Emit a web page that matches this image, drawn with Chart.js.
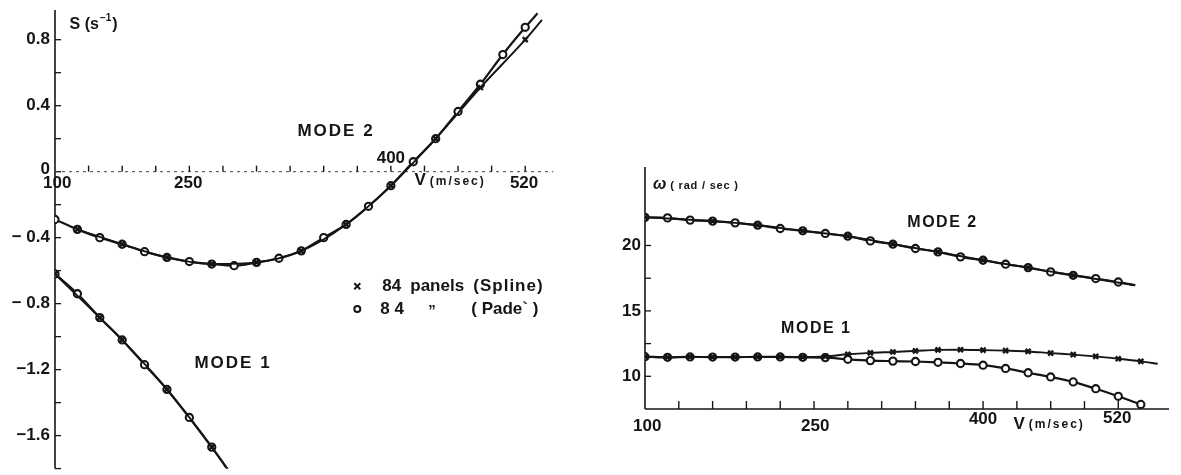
<!DOCTYPE html>
<html>
<head>
<meta charset="utf-8">
<title>S y omega contra V</title>
<script src="https://cdn.jsdelivr.net/npm/chart.js@4.4.0/dist/chart.umd.min.js"></script>
<style>
  body { margin: 0; background: #fff; }
  #izq { position: absolute; left: 0; top: 0; }
  #der { position: absolute; left: 600px; top: 0; }
</style>
</head>
<body>
<canvas id="izq" width="600" height="475"></canvas>
<canvas id="der" width="581" height="475"></canvas>
<script>
// ---- Panel izquierdo: S (1/s) contra V (m/sec) ----
const vIzq          = [100,120,140,160,180,200,220,240,260,280,300,320,340,360,380,400,420,440,460,480,500,520];
const sModo2Pade    = [-0.29,-0.35,-0.40,-0.44,-0.485,-0.52,-0.545,-0.56,-0.57,-0.55,-0.525,-0.48,-0.40,-0.32,-0.21,-0.085,0.06,0.20,0.365,0.53,0.71,0.875];
const vModo2Spline  = [120,160,200,240,280,320,360,400,440,480,520];
const sModo2Spline  = [-0.35,-0.44,-0.52,-0.56,-0.55,-0.48,-0.32,-0.085,0.20,0.51,0.80];
const colaModo2Pade   = [531, 0.96];
const colaModo2Spline = [535, 0.92];

const vModo1Izq     = [100,120,140,160,180,200,220,240];
const sModo1Pade    = [-0.62,-0.74,-0.885,-1.02,-1.17,-1.32,-1.49,-1.67];
const vModo1Spline  = [100,140,160,200,240];
const sModo1Spline  = [-0.62,-0.885,-1.02,-1.32,-1.67];
const colaModo1     = [260, -1.86];

const ticksYIzq     = [0.8, 0.4, 0, -0.4, -0.8, -1.2, -1.6];
const etiquetasYIzq = ["0.8", "0.4", "0", "\u2212 0.4", "\u2212 0.8", "\u22121.2", "\u22121.6"];

// ---- Panel derecho: omega (rad/sec) contra V (m/sec) ----
const vDer          = [100,120,140,160,180,200,220,240,260,280,300,320,340,360,380,400,420,440,460,480,500,520];
const wModo2Pade    = [22.15,22.11,21.94,21.86,21.73,21.55,21.30,21.12,20.92,20.71,20.35,20.10,19.77,19.51,19.13,18.87,18.57,18.31,17.98,17.72,17.47,17.21];
const vModo2SplineD = [100,160,200,240,280,320,360,400,440,480];
const wModo2Spline  = [22.15,21.86,21.55,21.12,20.71,20.10,19.51,18.87,18.31,17.72];
const colaModo2Der  = [535, 16.96];

const vModo1Der     = [100,120,140,160,180,200,220,240,260,280,300,320,340,360,380,400,420,440,460,480,500,520,540];
const wModo1Pade    = [11.50,11.45,11.48,11.47,11.47,11.48,11.48,11.45,11.43,11.30,11.20,11.16,11.13,11.07,10.98,10.85,10.60,10.27,9.95,9.57,9.05,8.47,7.85];
const wModo1Spline  = [11.50,11.45,11.48,11.47,11.47,11.48,11.48,11.47,11.52,11.68,11.79,11.86,11.94,12.02,12.03,12.00,11.96,11.90,11.77,11.66,11.52,11.34,11.14];
const colaModo1Der  = [555, 10.96];

const ticksYDer     = [20, 15, 10];

const TINTA = "#151515";
const FUENTE = '"Liberation Sans", Arial, sans-serif';

function puntos(vs, ys, cola) {
  const p = vs.map((v, i) => ({ x: v, y: ys[i] }));
  if (cola) p.push({ x: cola[0], y: cola[1], cola: true });
  return p;
}

function curvaPade(data) {
  return {
    data,
    borderColor: TINTA,
    borderWidth: 2.2,
    cubicInterpolationMode: "monotone",
    pointStyle: "circle",
    pointRadius: c => (c.raw && c.raw.cola ? 0 : 3.6),
    pointBorderWidth: 2.1,
    pointBorderColor: TINTA,
    pointBackgroundColor: "#fff",
    order: 1
  };
}

function curvaSpline(data) {
  return {
    data,
    borderColor: TINTA,
    borderWidth: 1.9,
    cubicInterpolationMode: "monotone",
    pointStyle: "crossRot",
    pointRadius: c => (c.raw && c.raw.cola ? 0 : 3.5),
    pointBorderWidth: 2.4,
    pointBorderColor: TINTA,
    pointBackgroundColor: TINTA,
    order: 0
  };
}

function texto(ctx, s, px, py, tam, alin, esp, peso) {
  ctx.font = (peso || "bold") + " " + tam + "px " + FUENTE;
  ctx.letterSpacing = (esp || 0) + "px";
  ctx.textAlign = alin || "center";
  ctx.textBaseline = "middle";
  ctx.fillStyle = TINTA;
  ctx.fillText(s, px, py);
  ctx.letterSpacing = "0px";
  ctx.textAlign = "left";
  return ctx.measureText(s).width;
}

function linea(ctx, x1, y1, x2, y2, ancho) {
  ctx.lineWidth = ancho;
  ctx.beginPath();
  ctx.moveTo(x1, y1);
  ctx.lineTo(x2, y2);
  ctx.stroke();
}

// Etiqueta de eje: letra grande y unidades pequeñas a continuación
function rotuloEje(ctx, letra, unidades, px, py, tamL, tamU, espU, estiloL) {
  ctx.font = (estiloL || "bold") + " " + tamL + "px " + FUENTE;
  ctx.textAlign = "left";
  ctx.textBaseline = "middle";
  ctx.fillStyle = TINTA;
  ctx.fillText(letra, px, py);
  const w = ctx.measureText(letra).width;
  texto(ctx, unidades, px + w + 4, py + 1, tamU, "left", espU, "bold");
}

const ejesIzq = {
  id: "ejesIzq",
  beforeDatasetsDraw(chart) {
    const ctx = chart.ctx, x = chart.scales.x, y = chart.scales.y, a = chart.chartArea;
    const x0 = x.getPixelForValue(100), y0 = y.getPixelForValue(0);
    ctx.save();
    ctx.strokeStyle = TINTA;
    linea(ctx, x0, a.top, x0, a.bottom, 1.6);
    // marcas del eje S cada 0.2, hacia dentro
    for (let s = -1.8; s <= 0.81; s += 0.2) {
      const py = y.getPixelForValue(s);
      linea(ctx, x0, py, x0 + 6, py, 1.3);
    }
    // eje V, trazo cortado como en la impresión
    ctx.strokeStyle = "#444";
    ctx.setLineDash([3, 4]);
    linea(ctx, x0, y0, x.getPixelForValue(545), y0, 1);
    ctx.setLineDash([]);
    ctx.strokeStyle = TINTA;
    for (let v = 130; v <= 520; v += 30) {
      const px = x.getPixelForValue(v);
      linea(ctx, px, y0, px, y0 - 6, 1.4);
    }
    ctx.restore();
  },
  afterDraw(chart) {
    const ctx = chart.ctx, x = chart.scales.x, y = chart.scales.y;
    const x0 = x.getPixelForValue(100), y0 = y.getPixelForValue(0);
    ctx.save();
    ticksYIzq.forEach((s, i) => {
      texto(ctx, etiquetasYIzq[i], x0 - 5, y.getPixelForValue(s) + (s === 0 ? -2 : 0), 17, "right");
    });
    texto(ctx, "100", x.getPixelForValue(102), y0 + 12, 17);
    texto(ctx, "250", x.getPixelForValue(219), y0 + 12, 17);
    texto(ctx, "400", x.getPixelForValue(400), y0 - 13, 17);
    texto(ctx, "520", x.getPixelForValue(519), y0 + 12, 17);
    rotuloEje(ctx, "V", "(m/sec)", x.getPixelForValue(421), y0 + 9, 17, 12, 2);

    // S (s^-1)
    ctx.font = "bold 16px " + FUENTE;
    ctx.textBaseline = "middle";
    ctx.fillStyle = TINTA;
    let px = x.getPixelForValue(113), py = y.getPixelForValue(0.892);
    ctx.fillText("S (s", px, py);
    px += ctx.measureText("S (s").width;
    ctx.font = "bold 10px " + FUENTE;
    ctx.fillText("\u22121", px + 1, py - 6);
    px += ctx.measureText("\u22121").width + 2;
    ctx.font = "bold 16px " + FUENTE;
    ctx.fillText(")", px, py);

    texto(ctx, "MODE 2", x.getPixelForValue(351), y.getPixelForValue(0.245), 17, "center", 2);
    texto(ctx, "MODE 1", x.getPixelForValue(259), y.getPixelForValue(-1.163), 17, "center", 2);

    // leyenda
    const lx = x.getPixelForValue(370), f1 = y.getPixelForValue(-0.695), f2 = y.getPixelForValue(-0.832);
    ctx.strokeStyle = TINTA;
    ctx.lineWidth = 2;
    ctx.beginPath();
    ctx.moveTo(lx - 3, f1 - 3); ctx.lineTo(lx + 3, f1 + 3);
    ctx.moveTo(lx + 3, f1 - 3); ctx.lineTo(lx - 3, f1 + 3);
    ctx.stroke();
    ctx.beginPath();
    ctx.arc(lx, f2, 3, 0, Math.PI * 2);
    ctx.stroke();
    texto(ctx, "84", lx + 25, f1, 17, "left");
    texto(ctx, "panels", lx + 53, f1, 17, "left");
    texto(ctx, "(Spline)", lx + 116, f1, 17, "left", 1);
    texto(ctx, "8 4", lx + 23, f2, 17, "left");
    texto(ctx, "\u201E", lx + 71, f2 - 6, 15, "left");
    texto(ctx, "( Pade` )", lx + 114, f2, 17, "left");
    ctx.restore();
  }
};

const ejesDer = {
  id: "ejesDer",
  beforeDatasetsDraw(chart) {
    const ctx = chart.ctx, x = chart.scales.x, y = chart.scales.y, a = chart.chartArea;
    const x0 = x.getPixelForValue(100), yb = a.bottom;
    ctx.save();
    ctx.strokeStyle = TINTA;
    linea(ctx, x0, a.top, x0, yb, 1.6);
    linea(ctx, x0, yb, a.right, yb, 1.5);
    [10, 12.5, 15, 17.5, 20].forEach(w => {
      const py = y.getPixelForValue(w);
      linea(ctx, x0, py, x0 + 6, py, 1.3);
    });
    for (let v = 130; v <= 520; v += 30) {
      const px = x.getPixelForValue(v);
      linea(ctx, px, yb, px, yb - 8, 1.4);
    }
    ctx.restore();
  },
  afterDraw(chart) {
    const ctx = chart.ctx, x = chart.scales.x, y = chart.scales.y, a = chart.chartArea;
    const x0 = x.getPixelForValue(100), yb = a.bottom;
    ctx.save();
    ticksYDer.forEach(w => texto(ctx, String(w), x0 - 4, y.getPixelForValue(w), 17, "right"));
    texto(ctx, "100", x.getPixelForValue(102), yb + 17, 17);
    texto(ctx, "250", x.getPixelForValue(251), yb + 17, 17);
    texto(ctx, "400", x.getPixelForValue(400), yb + 10, 17);
    texto(ctx, "520", x.getPixelForValue(519), yb + 9, 17);
    rotuloEje(ctx, "V", "(m/sec)", x.getPixelForValue(427), yb + 15, 17, 12, 2);
    rotuloEje(ctx, "\u03C9", "( rad / sec )", x.getPixelForValue(107), y.getPixelForValue(24.62), 16, 11, 0.8, "italic bold");
    texto(ctx, "MODE 2", x.getPixelForValue(364), y.getPixelForValue(21.78), 16, "center", 1.5);
    texto(ctx, "MODE 1", x.getPixelForValue(252), y.getPixelForValue(13.66), 16, "center", 1.5);
    ctx.restore();
  }
};

function opciones(xMin, xMax, yMin, yMax, relleno) {
  return {
    responsive: false,
    animation: false,
    events: [],
    layout: { padding: relleno },
    plugins: { legend: { display: false }, tooltip: { enabled: false } },
    scales: {
      x: { type: "linear", min: xMin, max: xMax, display: false },
      y: { type: "linear", min: yMin, max: yMax, display: false }
    }
  };
}

new Chart(document.getElementById("izq"), {
  type: "line",
  data: {
    datasets: [
      curvaSpline(puntos(vModo2Spline, sModo2Spline, colaModo2Spline)),
      curvaPade(puntos(vIzq, sModo2Pade, colaModo2Pade)),
      curvaSpline(puntos(vModo1Spline, sModo1Spline, colaModo1)),
      curvaPade(puntos(vModo1Izq, sModo1Pade, colaModo1))
    ]
  },
  options: opciones(100, 560, -1.8, 0.98, { left: 55, right: 30, top: 10, bottom: 0 }),
  plugins: [ejesIzq]
});

new Chart(document.getElementById("der"), {
  type: "line",
  data: {
    datasets: [
      curvaSpline(puntos(vModo2SplineD, wModo2Spline, colaModo2Der)),
      curvaPade(puntos(vDer, wModo2Pade, colaModo2Der)),
      curvaSpline(puntos(vModo1Der, wModo1Spline, colaModo1Der)),
      curvaPade(puntos(vModo1Der, wModo1Pade))
    ]
  },
  options: opciones(100, 565, 7.5, 26, { left: 45, right: 12, top: 167, bottom: 66 }),
  plugins: [ejesDer]
});
</script>
</body>
</html>
